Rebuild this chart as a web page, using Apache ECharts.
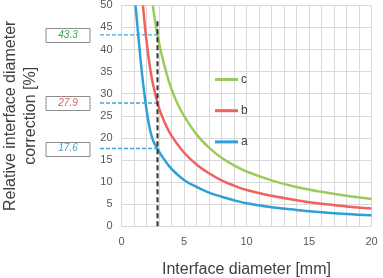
<!DOCTYPE html>
<html><head><meta charset="utf-8">
<script src="https://cdn.jsdelivr.net/npm/echarts@6/dist/echarts.min.js"></script>
<style>html,body{margin:0;padding:0;background:#fff}#c{width:383px;height:278px}</style>
</head><body><div id="c"></div>
<script>
// Series a (blue)
const xA = [1.12, 1.3, 1.5, 1.7, 1.9, 2.1, 2.3, 2.5, 2.7, 2.88, 3.3, 4, 5, 6, 7, 8, 9, 10, 12, 14, 16, 18, 20];
const yA = [50, 44.5, 38.5, 33.0, 28.5, 24.5, 21.6, 19.6, 18.4, 17.5, 15.6, 13.0, 10.5, 8.9, 7.6, 6.7, 5.9, 5.2, 4.3, 3.7, 3.2, 2.8, 2.5];
// Series b (red)
const xB = [1.72, 1.9, 2.1, 2.3, 2.5, 2.88, 3.2, 3.6, 4, 5, 6, 7, 8, 9, 10, 12, 14, 16, 18, 20];
const yB = [50, 44.5, 39.6, 35.6, 32.4, 27.9, 25.2, 22.6, 20.5, 16.7, 14.0, 12.0, 10.4, 9.2, 8.2, 6.9, 5.9, 5.1, 4.5, 4.0];
// Series c (green)
const xC = [2.5, 2.7, 2.88, 3.2, 3.6, 4, 4.5, 5, 6, 7, 8, 9, 10, 12, 14, 16, 18, 20];
const yC = [50, 46.2, 43.3, 39, 34.6, 31, 27.6, 25, 20.8, 17.8, 15.5, 13.8, 12.4, 10.4, 8.9, 7.8, 6.9, 6.2];
// Annotation
const markX = 2.88;
const markTop = 46.7;
const markValues = [43.3, 27.9, 17.6];
const markLabels = ['43.3', '27.9', '17.6'];
const markColors = ['#2fae4e', '#e05a55', '#45a8da'];
const legendOrder = ['c', 'b', 'a'];

const chart = echarts.init(document.getElementById('c'), null, {renderer: 'canvas'});
const pair = (xs, ys) => xs.map((x, i) => [x, ys[i]]);
const FF = 'Liberation Sans';
const mkSeries = (name, data, color) => ({
  name, type: 'line', data, showSymbol: false, symbol: 'none',
  smooth: 0.4,
  lineStyle: {color, width: 2.5}, itemStyle: {color}
});
chart.setOption({
  animation: false,
  grid: {left: 121.5, right: 11.5, top: 5.3, bottom: 51.7, containLabel: false, outerBoundsMode: 'none'},
  xAxis: {
    type: 'value', min: 0, max: 20, interval: 1,
    axisLine: {show: false}, axisTick: {show: false},
    axisLabel: {formatter: v => (v % 5 === 0 ? String(v) : ''), color: '#595959', fontSize: 11, margin: 10, fontFamily: FF},
    splitLine: {show: true, lineStyle: {color: '#d9d9d9', width: 1}},
    name: 'Interface diameter [mm]', nameLocation: 'middle', nameGap: 35,
    nameTextStyle: {fontSize: 16, color: '#404040', fontFamily: FF}
  },
  yAxis: {
    type: 'value', min: 0, max: 50, interval: 5,
    axisLine: {show: false}, axisTick: {show: false},
    axisLabel: {color: '#595959', fontSize: 11, margin: 9, fontFamily: FF},
    splitLine: {show: true, lineStyle: {color: '#d9d9d9', width: 1}},
    name: 'Relative interface diameter\ncorrection [%]', nameLocation: 'middle', nameGap: 80.5,
    nameTextStyle: {fontSize: 16, color: '#404040', fontFamily: FF, lineHeight: 20, align: 'center'}
  },
  legend: {
    orient: 'vertical', left: 210, top: 68.5, data: legendOrder,
    icon: 'rect', itemWidth: 23, itemHeight: 3, itemGap: 19.2,
    textStyle: {color: '#404040', fontSize: 12, fontFamily: FF, padding: [0, 0, 0, -2]}
  },
  series: [
    mkSeries('a', pair(xA, yA), '#2f9fd8'),
    mkSeries('b', pair(xB, yB), '#f0625d'),
    mkSeries('c', pair(xC, yC), '#9ccb5b')
  ]
});

const px = (x, y) => chart.convertToPixel({gridIndex: 0}, [x, y]);
const vx = px(markX, 0);
const vTop = px(markX, markTop);
const graphics = [];
markValues.forEach((v, i) => {
  const p = px(markX, v);
  graphics.push({
    type: 'line', shape: {x1: 100, y1: p[1], x2: p[0], y2: p[1]},
    style: {stroke: '#3fa7dc', lineWidth: 1.3, lineDash: [4, 2]}, z: 10
  });
  graphics.push({
    type: 'rect', shape: {x: 46, y: Math.round(p[1] - 7) + 0.5, width: 44, height: 14},
    style: {fill: '#fff', stroke: '#8c8c8c', lineWidth: 1}, z: 10
  });
  graphics.push({
    type: 'text', x: 68, y: p[1],
    style: {text: markLabels[i], fill: markColors[i], font: 'italic 10px ' + FF, align: 'center', verticalAlign: 'middle'}, z: 11
  });
});
graphics.push({
  type: 'line', shape: {x1: vx[0], y1: vx[1], x2: vTop[0], y2: vTop[1]},
  style: {stroke: '#333', lineWidth: 2, lineDash: [5, 3]}, z: 12
});
chart.setOption({graphic: graphics});
</script></body></html>
